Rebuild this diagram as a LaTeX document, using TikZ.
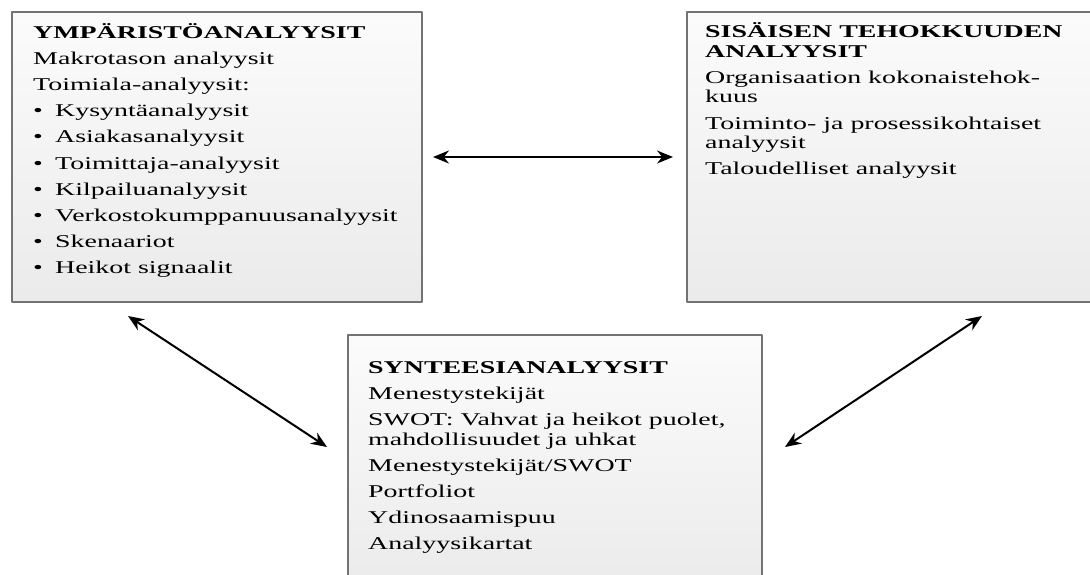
\documentclass[tikz,border=0pt]{standalone}
\usepackage{fontspec}
\setmainfont{Liberation Serif}[FakeStretch=1.55]
\usepackage{tikz}
\usetikzlibrary{arrows.meta,calc}

\begin{document}
\begin{tikzpicture}[x=1pt,y=-1pt,>={Stealth[length=16pt,width=13pt]},line join=round,
  panel/.style={draw=black!55,line width=1.6pt,top color=gray!3,bottom color=gray!16,
    anchor=north west,inner sep=0pt,outer sep=0pt},
  paneltext/.style={anchor=north west,inner sep=0pt,align=left,
    font=\fontsize{18}{19.5}\selectfont},
  link/.style={<->,line width=2pt}]
  \useasboundingbox (0,0) rectangle (1090,574);
  \node[panel,minimum width=410pt,minimum height=290pt] (ymp) at (12,12) {};
  \node[panel,minimum width=420pt,minimum height=290pt] (sis) at (687,12) {};
  \node[panel,minimum width=414pt,minimum height=260pt] (syn) at (348,335) {};
  \node[paneltext] (ymptext) at ($(ymp.north west)+(21,11)$) {%
    \textbf{YMPÄRISTÖANALYYSIT}\\[6.7pt]
    Makrotason analyysit\\[6.7pt]
    Toimiala-analyysit:\\[6.7pt]
    \makebox[22pt][l]{\textbullet}Kysyntäanalyysit\\[6.7pt]
    \makebox[22pt][l]{\textbullet}Asiakasanalyysit\\[6.7pt]
    \makebox[22pt][l]{\textbullet}Toimittaja-analyysit\\[6.7pt]
    \makebox[22pt][l]{\textbullet}Kilpailuanalyysit\\[6.7pt]
    \makebox[22pt][l]{\textbullet}Verkostokumppanuusanalyysit\\[6.7pt]
    \makebox[22pt][l]{\textbullet}Skenaariot\\[6.7pt]
    \makebox[22pt][l]{\textbullet}Heikot signaalit};
  \node[paneltext] (sistext) at ($(sis.north west)+(18,10.5)$) {%
    \textbf{SISÄISEN TEHOKKUUDEN}\\
    \textbf{ANALYYSIT}\\[6.7pt]
    Organisaation kokonaistehok-\\
    kuus\\[6.7pt]
    Toiminto- ja prosessikohtaiset\\
    analyysit\\[6.7pt]
    Taloudelliset analyysit};
  \node[paneltext] (syntext) at ($(syn.north west)+(20,26)$) {%
    \textbf{SYNTEESIANALYYSIT}\\[6.7pt]
    Menestystekijät\\[6.7pt]
    SWOT: Vahvat ja heikot puolet,\\
    mahdollisuudet ja uhkat\\[6.7pt]
    Menestystekijät/SWOT\\[6.7pt]
    Portfoliot\\[6.7pt]
    Ydinosaamispuu\\[6.7pt]
    Analyysikartat};
  \draw[link] ([xshift=11pt]ymp.east) -- ([xshift=-14pt]sis.west);
  \draw[link] ([shift={(116,14)}]ymp.south west) -- ([shift={(-21,112)}]syn.north west);
  \draw[link] ([shift={(23,112)}]syn.north east) -- ([shift={(295,14)}]sis.south west);
\end{tikzpicture}
\end{document}
